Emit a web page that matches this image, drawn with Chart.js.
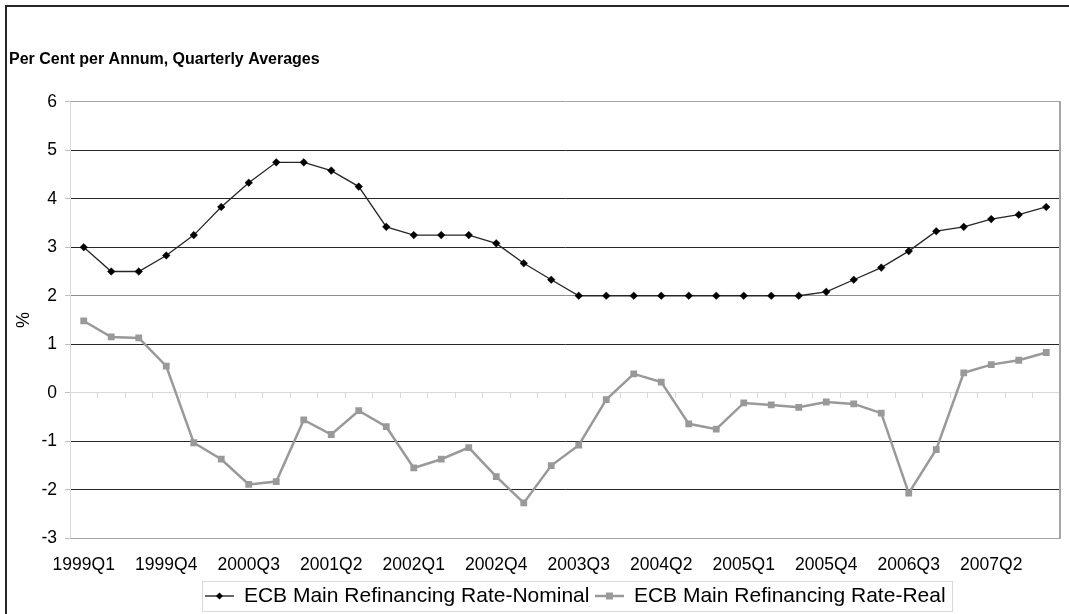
<!DOCTYPE html>
<html>
<head>
<meta charset="utf-8">
<script src="https://cdn.jsdelivr.net/npm/chart.js@4.4.1/dist/chart.umd.min.js"></script>
<style>
  html, body { margin: 0; padding: 0; background: #fff; }
  body { width: 1069px; height: 614px; overflow: hidden; position: relative; }
  #marco { position: absolute; left: 5px; top: 5px; width: 1120px; height: 700px; border: 2px solid #262626; box-sizing: border-box; }
  #contenedorChart { position: absolute; left: 0; top: 0; width: 1069px; height: 614px; }
</style>
</head>
<body>
<div id="marco"></div>
<div id="contenedorChart"><canvas id="myChart" width="1069" height="614"></canvas></div>
<script>
//DATOS
const trimestres = [
  "1999Q1", "1999Q2", "1999Q3", "1999Q4", "2000Q1", "2000Q2", "2000Q3", "2000Q4",
  "2001Q1", "2001Q2", "2001Q3", "2001Q4", "2002Q1", "2002Q2", "2002Q3", "2002Q4",
  "2003Q1", "2003Q2", "2003Q3", "2003Q4", "2004Q1", "2004Q2", "2004Q3", "2004Q4",
  "2005Q1", "2005Q2", "2005Q3", "2005Q4", "2006Q1", "2006Q2", "2006Q3", "2006Q4",
  "2007Q1", "2007Q2", "2007Q3", "2007Q4",
];
// etiquetas visibles del eje X (una de cada tres)
const etiquetasEjeX = [
  "1999Q1", "1999Q4", "2000Q3", "2001Q2", "2002Q1", "2002Q4",
  "2003Q3", "2004Q2", "2005Q1", "2005Q4", "2006Q3", "2007Q2",
];
const tasaNominal = [
  3.0, 2.5, 2.5, 2.83, 3.25, 3.83, 4.33, 4.75, 4.75, 4.58,
  4.25, 3.42, 3.25, 3.25, 3.25, 3.08, 2.67, 2.33, 2.0, 2.0,
  2.0, 2.0, 2.0, 2.0, 2.0, 2.0, 2.0, 2.08, 2.33, 2.58,
  2.92, 3.33, 3.42, 3.58, 3.67, 3.83,
];
const tasaReal = [
  1.48, 1.15, 1.13, 0.55, -1.03, -1.37, -1.89, -1.83, -0.56, -0.86,
  -0.37, -0.7, -1.55, -1.37, -1.13, -1.73, -2.27, -1.5, -1.08, -0.14,
  0.39, 0.22, -0.64, -0.75, -0.21, -0.25, -0.3, -0.19, -0.23, -0.42,
  -2.07, -1.17, 0.41, 0.58, 0.67, 0.83,
];
const ticksEjeY = [-3, -2, -1, 0, 1, 2, 3, 4, 5, 6];

const FUENTE = "'Liberation Sans', Arial, sans-serif";

// marcador de la leyenda: linea con simbolo en el centro
function marcadorLeyenda(color, grosor, forma) {
  const c = document.createElement("canvas");
  c.width = 29;
  c.height = 10;
  const g = c.getContext("2d");
  g.strokeStyle = color;
  g.lineWidth = grosor;
  g.beginPath();
  g.moveTo(0, 5);
  g.lineTo(29, 5);
  g.stroke();
  g.fillStyle = color;
  if (forma == "diamante") {
    g.beginPath();
    g.moveTo(14.5, 1.5);
    g.lineTo(18, 5);
    g.lineTo(14.5, 8.5);
    g.lineTo(11, 5);
    g.closePath();
    g.fill();
  } else {
    g.fillRect(11, 1.5, 7, 7);
  }
  return c;
}

function colorRejilla(valor) {
  if (valor == 6 || valor == -3) return "#a6a6a6";
  if (valor == 0) return "rgba(0,0,0,0)";
  if (valor == 2) return "#8c8c8c";
  return "#262626";
}

// recuadro de la leyenda y ajuste de su posicion
const pluginLeyenda = {
  id: "cajaLeyenda",
  afterLayout(chart) {
    const lg = chart.legend;
    lg.left += 41;
    lg.right += 41;
    lg.top += 2.5;
    lg.bottom += 2.5;
  },
  afterDraw(chart) {
    const cajas = chart.legend.legendHitBoxes;
    if (!cajas || !cajas.length) return;
    const primera = cajas[0];
    const ultima = cajas[cajas.length - 1];
    const cy = primera.top + primera.height / 2;
    const ctx = chart.ctx;
    ctx.save();
    ctx.strokeStyle = "#d9d9d9";
    ctx.lineWidth = 1;
    ctx.strokeRect(Math.round(primera.left - 3) + 0.5, Math.round(cy - 15) + 0.5,
      Math.round(ultima.left + ultima.width - primera.left + 10), 30);
    ctx.restore();
  },
};

const data = {
  labels: trimestres,
  datasets: [
    {
      label: "ECB Main Refinancing Rate-Nominal",
      data: tasaNominal,
      borderColor: "#262626",
      borderWidth: 1.3,
      pointStyle: "rectRot",
      pointRadius: 3.8,
      pointBackgroundColor: "#000000",
      pointBorderColor: "#000000",
      pointBorderWidth: 0.5,
      tension: 0,
      marcador: marcadorLeyenda("#000000", 1.2, "diamante"),
    },
    {
      label: "ECB Main Refinancing Rate-Real",
      data: tasaReal,
      borderColor: "#999999",
      borderWidth: 2.5,
      pointStyle: "rect",
      pointRadius: 4.8,
      pointBackgroundColor: "#999999",
      pointBorderColor: "#999999",
      pointBorderWidth: 0,
      tension: 0,
      marcador: marcadorLeyenda("#999999", 2.5, "cuadro"),
    },
  ],
};

const config = {
  type: "line",
  data: data,
  plugins: [pluginLeyenda],
  options: {
    responsive: false,
    animation: false,
    devicePixelRatio: 1,
    events: [],
    layout: { padding: { left: 9, right: 9, top: 0, bottom: 0 } },
    plugins: {
      tooltip: { enabled: false },
      title: {
        display: true,
        text: "Per Cent per Annum, Quarterly Averages",
        align: "start",
        color: "#000",
        font: { family: FUENTE, size: 16, weight: "bold" },
        padding: { top: 50.4, bottom: 32.1 },
      },
      legend: {
        position: "bottom",
        labels: {
          color: "#000",
          font: { family: FUENTE, size: 21 },
          usePointStyle: true,
          pointStyleWidth: 28,
          padding: 6,
          generateLabels: (chart) => {
            const items = Chart.defaults.plugins.legend.labels.generateLabels(chart);
            items.forEach((it) => {
              it.pointStyle = chart.data.datasets[it.datasetIndex].marcador;
            });
            return items;
          },
        },
      },
    },
    scales: {
      x: {
        offset: true,
        grid: { display: false, drawTicks: false },
        border: { display: true, color: "#a6a6a6", width: 1 },
        ticks: {
          autoSkip: false,
          maxRotation: 0,
          color: "#000",
          padding: 16.5,
          font: { family: FUENTE, size: 17.5 },
          callback: function (valor, indice) {
            const t = this.getLabelForValue(valor);
            return etiquetasEjeX.includes(t) ? t : "";
          },
        },
        afterFit: (scale) => {
          scale.height = 38.7;
        },
      },
      // eje horizontal en el cero con sus marcas
      xCero: {
        type: "category",
        position: { y: 0 },
        offset: true,
        grid: {
          display: true,
          drawOnChartArea: false,
          drawTicks: true,
          tickLength: 5,
          offset: true,
          color: "#d9d9d9",
        },
        border: { display: true, color: "#d9d9d9", width: 1 },
        ticks: { display: false },
      },
      y: {
        min: ticksEjeY[0],
        max: ticksEjeY[ticksEjeY.length - 1],
        afterBuildTicks: (scale) => {
          scale.ticks = ticksEjeY.map((v) => ({ value: v }));
        },
        grid: {
          color: (c) => colorRejilla(c.tick.value),
          tickColor: "#bfbfbf",
          tickLength: 5,
        },
        border: { display: true, color: "#d9d9d9", width: 1 },
        ticks: {
          color: "#000",
          padding: 8,
          font: { family: FUENTE, size: 17.5 },
        },
        title: {
          display: true,
          text: "%",
          color: "#000",
          font: { family: FUENTE, size: 18 },
          padding: { top: 4, bottom: 4 },
        },
        afterFit: (scale) => {
          scale.width = 61;
        },
      },
      yDer: {
        position: "right",
        min: ticksEjeY[0],
        max: ticksEjeY[ticksEjeY.length - 1],
        grid: { display: false, drawTicks: false },
        border: { display: true, color: "#a6a6a6", width: 2 },
        ticks: { display: false },
        afterFit: (scale) => {
          scale.width = 0;
        },
      },
    },
  },
};

const myChart = new Chart(document.getElementById("myChart"), config);
</script>
</body>
</html>
